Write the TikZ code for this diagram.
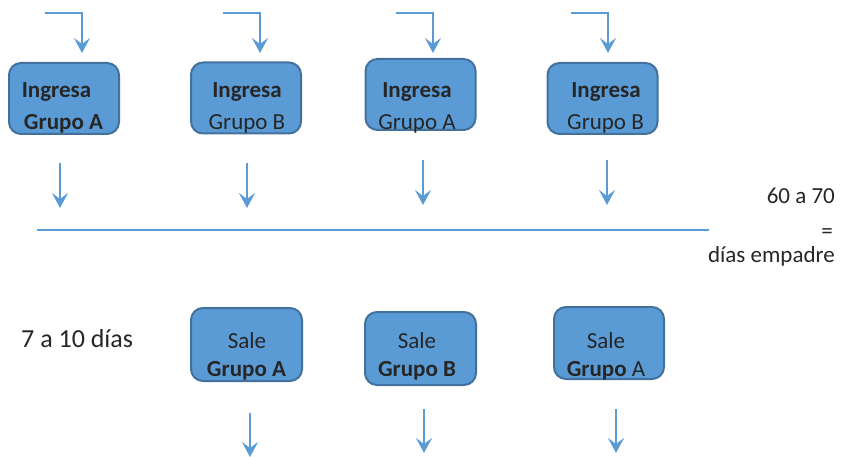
\documentclass[tikz,border=0pt]{standalone}
\usepackage{fontspec}
\setmainfont{Carlito}
\usetikzlibrary{positioning,arrows.meta}
\definecolor{cajaazul}{HTML}{5B9BD5}
\definecolor{bordeazul}{HTML}{41719C}
\definecolor{texto}{HTML}{262626}

\begin{document}
\begin{tikzpicture}[x=1pt,y=-1pt,
  caja/.style={draw=bordeazul, fill=cajaazul, line width=2pt, rounded corners=12pt,
    minimum width=110pt, minimum height=71pt, inner sep=0pt},
  txt/.style={text=texto, font=\fontsize{23}{28}\selectfont, anchor=base, inner sep=0pt},
  flecha/.style={draw=cajaazul, line width=2.5pt, -{Stealth[length=15pt,width=16pt,inset=6pt]}},
  linea/.style={draw=cajaazul, line width=2pt}]
\useasboundingbox (0,0) rectangle (842,457);

% Boxes in
\node[caja] (in1) at (64,98.5) {};
\node[caja] (in2) at (246,98) {};
\node[caja] (in3) at (420.5,94.5) {};
\node[caja] (in4) at (602.5,98.5) {};

\node[txt] (in1a) at (56.5,98) {\bfseries Ingresa};
\node[txt] (in1b) at (63.5,130) {\bfseries Grupo A};
\node[txt] (in2a) at (247,98) {\bfseries Ingresa};
\node[txt] (in2b) at (247,130) {Grupo B};
\node[txt] (in3a) at (417,98) {\bfseries Ingresa};
\node[txt] (in3b) at (417,130) {Grupo A};
\node[txt] (in4a) at (606,98) {\bfseries Ingresa};
\node[txt] (in4b) at (605.5,130) {Grupo B};

% Top arrows
\coordinate (e1) at (45,13);  \coordinate (f1) at (82,53);
\coordinate (e2) at (223,13); \coordinate (f2) at (260,53);
\coordinate (e3) at (396,13); \coordinate (f3) at (433,53);
\coordinate (e4) at (571,13); \coordinate (f4) at (608,53);
\draw[flecha] (e1) -| (f1);
\draw[flecha] (e2) -| (f2);
\draw[flecha] (e3) -| (f3);
\draw[flecha] (e4) -| (f4);

% Arrows under the boxes
\coordinate (d1) at (60,163);  \coordinate (g1) at (60,208);
\coordinate (d2) at (247,163); \coordinate (g2) at (247,208);
\coordinate (d3) at (423,160); \coordinate (g3) at (423,205);
\coordinate (d4) at (607,160); \coordinate (g4) at (607,205);
\draw[flecha] (d1) -- (g1);
\draw[flecha] (d2) -- (g2);
\draw[flecha] (d3) -- (g3);
\draw[flecha] (d4) -- (g4);

% Line
\coordinate (l1) at (37,230);
\coordinate (l2) at (709,230);
\draw[linea] (l1) -- (l2);

\node[txt, anchor=base east] (dias1) at (835,203) {60 a 70};
\node[txt, anchor=base east] (dias2) at (833,238) {=};
\node[txt, anchor=base east] (dias3) at (835,262) {días empadre};

% Boxes out
\node[txt, anchor=base west, font=\fontsize{26}{31}\selectfont] (dias4) at (21,347) {7 a 10 días};

\node[caja, minimum width=111pt, minimum height=73pt] (sa1) at (246.5,344.5) {};
\node[caja, minimum width=111pt, minimum height=73pt] (sa2) at (420.5,348.5) {};
\node[caja, minimum width=110pt, minimum height=72pt] (sa3) at (609,343) {};

\node[txt] (sa1a) at (247,348) {Sale};
\node[txt] (sa1b) at (246.5,376) {\bfseries Grupo A};
\node[txt] (sa2a) at (417,348) {Sale};
\node[txt] (sa2b) at (417,376) {\bfseries Grupo B};
\node[txt] (sa3a) at (606,348) {Sale};
\node[txt] (sa3b) at (606,376) {\textbf{Grupo} A};

% Bottom arrows
\coordinate (b1) at (250,413); \coordinate (c1) at (250,457);
\coordinate (b2) at (424,409); \coordinate (c2) at (424,453);
\coordinate (b3) at (616,409); \coordinate (c3) at (616,453);
\draw[flecha] (b1) -- (c1);
\draw[flecha] (b2) -- (c2);
\draw[flecha] (b3) -- (c3);
\end{tikzpicture}
\end{document}
